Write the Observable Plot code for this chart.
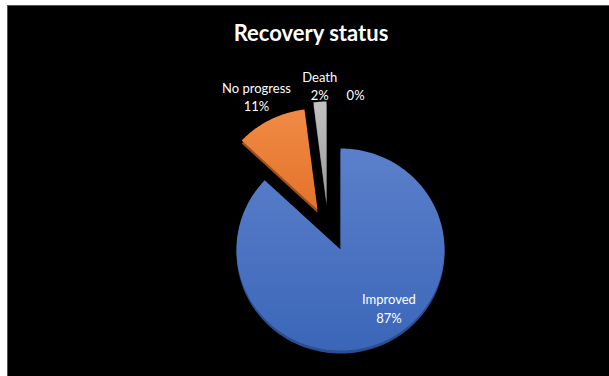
<!DOCTYPE html>
<html><head>
<meta charset="utf-8">
<script src="https://cdn.jsdelivr.net/npm/d3@7"></script>
<script src="https://cdn.jsdelivr.net/npm/@observablehq/plot@0.6"></script>
<style>body{margin:0;background:#fff;}</style>
</head><body><div id="chart"></div>
<script>
const categories = ["Improved", "No progress", "Death", ""];
const values = [87, 11, 2, 0];
const percentLabels = ["87%", "11%", "2%", "0%"];

const colors = ["url(#blueGrad)", "url(#orangeGrad)", "url(#grayGrad)", "#FFC000"];
const edgeColors = ["#2a4f91", "#9c4f1c", "#6b6b6b", "#a07a00"];
// explode: [distance px, direction deg clockwise from top]
const explode = [[0, 0], [46, 330], [49, 343.4], [0, 0]];
// label placement: [radius in pie radii, angle deg clockwise from top]
const labelPolar = [[0.74, 141], [1.72, 332], [1.64, 353], [1.54, 5.4]];

const W = 609, H = 376, cx = 340, cy = 249, RX = 104, RY = 101;

const arcs = d3.pie().sort(null).value(d => d)(values);
const slices = arcs.map((a, i) => {
  const [d, deg] = explode[i];
  const t0 = deg * Math.PI / 180;
  const ox = d * Math.sin(t0) / RX, oy = d * Math.cos(t0) / RY;
  const pts = [{x: ox, y: oy}];
  const n = Math.max(2, Math.ceil((a.endAngle - a.startAngle) / 0.02));
  for (let k = 0; k <= n; k++) {
    const t = a.startAngle + (a.endAngle - a.startAngle) * k / n;
    pts.push({x: ox + Math.sin(t), y: oy + Math.cos(t)});
  }
  return {i, pts, value: values[i]};
}).filter(s => s.value > 0);

const labels = categories.map((c, i) => {
  const [r, deg] = labelPolar[i];
  const t = deg * Math.PI / 180;
  return {x: r * Math.sin(t), y: r * Math.cos(t), text: (c ? c + "\n" : "") + percentLabels[i]};
});

const marks = [
  Plot.frame({fill: "black", stroke: "#555", insetLeft: 7, insetTop: 5, insetRight: -1, insetBottom: -1}),
  Plot.text(["Recovery status"], {frameAnchor: "top", dx: 6, dy: 33, fill: "white", fontSize: 22, fontWeight: "bold", lineAnchor: "middle"})
];
for (const s of slices) {
  marks.push(Plot.line(s.pts, {x: "x", y: "y", curve: "linear-closed", fill: edgeColors[s.i], stroke: "none", dy: 3}));
}
for (const s of slices) {
  marks.push(Plot.line(s.pts, {x: "x", y: "y", curve: "linear-closed", fill: colors[s.i], stroke: "none"}));
}
marks.push(Plot.text(labels, {x: "x", y: "y", text: "text", fill: "white", fontSize: 13, lineHeight: 1.4, lineAnchor: "middle"}));

const chart = Plot.plot({
  width: W, height: H,
  margin: 0,
  style: {fontFamily: "Lato, 'Open Sans', sans-serif", background: "transparent"},
  x: {domain: [-1, 1], range: [cx - RX, cx + RX], axis: null},
  y: {domain: [-1, 1], range: [cy + RY, cy - RY], axis: null},
  marks
});

const defs = d3.select(chart).insert("defs", ":first-child");
function grad(id, top, bottom) {
  const g = defs.append("linearGradient").attr("id", id).attr("x1", 0).attr("y1", 0).attr("x2", 0).attr("y2", 1);
  g.append("stop").attr("offset", "0%").attr("stop-color", top);
  g.append("stop").attr("offset", "100%").attr("stop-color", bottom);
}
grad("blueGrad", "#5b80cb", "#3b66b8");
grad("orangeGrad", "#f08a45", "#e3732a");
grad("grayGrad", "#c2c2c2", "#9a9a9a");

document.getElementById("chart").appendChild(chart);
</script>
</body></html>
